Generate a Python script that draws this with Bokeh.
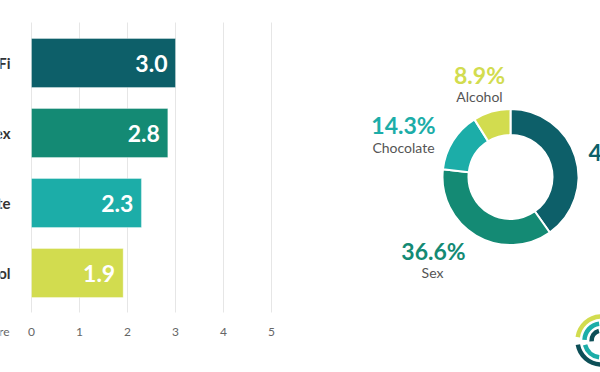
import math
from bokeh.plotting import figure
from bokeh.layouts import row
from bokeh.models import Range1d, ColumnDataSource
from bokeh.core.properties import value
from bokeh.embed import file_html
from bokeh.resources import INLINE

# ---------------- data ----------------
categories = ["Wi-Fi", "Sex", "Chocolate", "Alcohol"]
scores = [3.0, 2.84, 2.29, 1.91]
score_ticks = [0, 1, 2, 3, 4, 5]
axis_title = "Score"
shares = [40.2, 36.6, 14.3, 8.9]
colors = ["#0d5f69", "#148a74", "#1cada8", "#d2dc4f"]

# logo (decorative arcs)
logo_radius = [24, 17, 10, 24, 17]
logo_start = [92, 98, 105, 190, 195]
logo_end = [172, 178, 185, 268, 262]
logo_color = ["#d2dc4f", "#1cada8", "#0d4f57", "#0d4f57", "#1cada8"]

FONT = "Lato"

# ---------------- bar chart ----------------
PX = 48.0   # pixels per score unit
ROW = 70.0  # pixels per category row
W1, H1 = 300, 372
n = len(categories)
ypos = [n - i for i in range(n)]
y_top = n + 62.5 / ROW
y_bot = y_top - H1 / ROW
x_left = -31 / PX
x_right = (W1 - 31) / PX
grid_top = y_top - 22 / ROW
grid_bot = y_top - 312 / ROW
tick_y = y_top - 331 / ROW

p1 = figure(width=W1, height=H1, output_backend="svg", toolbar_location=None,
            x_range=Range1d(x_left, x_right), y_range=Range1d(y_bot, y_top),
            x_axis_location=None, y_axis_location=None, min_border=0)
p1.outline_line_color = None
p1.grid.visible = False
p1.background_fill_color = "white"
p1.border_fill_color = "white"

# value gridlines and tick labels, drawn on the score scale
tsrc = ColumnDataSource(dict(t=score_ticks, lab=[str(t) for t in score_ticks]))
p1.segment(x0="t", x1="t", y0=grid_bot, y1=grid_top, line_color="#e6e6e6",
           line_width=1, source=tsrc)
p1.text(x="t", y=tick_y, text="lab", text_align="center",
        text_baseline="middle", text_color="#666666", text_font=value(FONT),
        text_font_size="12px", source=tsrc)
p1.text(x=[-22 / PX], y=[tick_y], text=[axis_title], text_align="right",
        text_baseline="middle", text_color="#666666", text_font=value(FONT),
        text_font_size="12px")

src = ColumnDataSource(dict(y=ypos, v=scores, c=colors, cat=categories,
                            lab=[f"{s:.1f}" for s in scores]))
p1.hbar(y="y", left=0, right="v", height=0.7, fill_color="c",
        line_color="white", line_alpha=0.35, source=src)
p1.text(x="v", y="y", text="lab", x_offset=-8, text_align="right",
        text_baseline="middle", text_color="white", text_font=value(FONT),
        text_font_style="bold", text_font_size="23px", source=src)
p1.text(x=-21 / PX, y="y", text="cat", text_align="right",
        text_baseline="middle", text_color="#333333", text_font=value(FONT),
        text_font_style="bold", text_font_size="15px", source=src)

# ---------------- donut ----------------
W2, H2 = 300, 372
cx_px, cy_px = 210, 176.5
p2 = figure(width=W2, height=H2, output_backend="svg", toolbar_location=None,
            x_range=Range1d(-cx_px, W2 - cx_px),
            y_range=Range1d(-(H2 - cy_px), cy_px),
            x_axis_location=None, y_axis_location=None,
            min_border=0)
p2.outline_line_color = None
p2.grid.visible = False
p2.background_fill_color = "white"
p2.border_fill_color = "white"

total = sum(shares)
starts, ends, cum = [], [], 0.0
for s in shares:
    starts.append(math.pi / 2 - 2 * math.pi * cum / total)
    cum += s
    ends.append(math.pi / 2 - 2 * math.pi * cum / total)

dsrc = ColumnDataSource(dict(s=starts, e=ends, c=colors))
p2.annular_wedge(x=0, y=0, inner_radius=42, outer_radius=68,
                 start_angle="s", end_angle="e", direction="clock",
                 fill_color="c", line_color="white", line_width=2,
                 source=dsrc)

# label layout (offsets from donut centre, px) -- styling, not data
lab_x = [78, -77, -107, -31]
lab_y = [25, -73.5, 52, 102.5]
lab_align = ["left", "center", "center", "center"]
name_x = [113, -78, -107, -31]
lsrc = ColumnDataSource(dict(x=lab_x, y=lab_y, nx=name_x,
                             ny=[v - 22 for v in lab_y], a=lab_align,
                             c=colors, pct=[f"{s:.1f}%" for s in shares],
                             name=categories))
p2.text(x="x", y="y", text="pct", text_align="a", text_baseline="middle",
        text_color="c", text_font=value(FONT), text_font_style="bold",
        text_font_size="23px", source=lsrc)
p2.text(x="nx", y="ny", text="name", text_align="center",
        text_baseline="middle", text_color="#555555", text_font=value(FONT),
        text_font_size="14px", source=lsrc)

# logo arcs
logo_cx, logo_cy = 91, -163.5
p2.arc(x=logo_cx, y=logo_cy, radius=logo_radius,
       start_angle=[math.radians(a) for a in logo_start],
       end_angle=[math.radians(a) for a in logo_end],
       direction="anticlock", line_color=logo_color, line_width=4.5)

layout = row(p1, p2)
open("out.html", "w").write(file_html(layout, INLINE))
